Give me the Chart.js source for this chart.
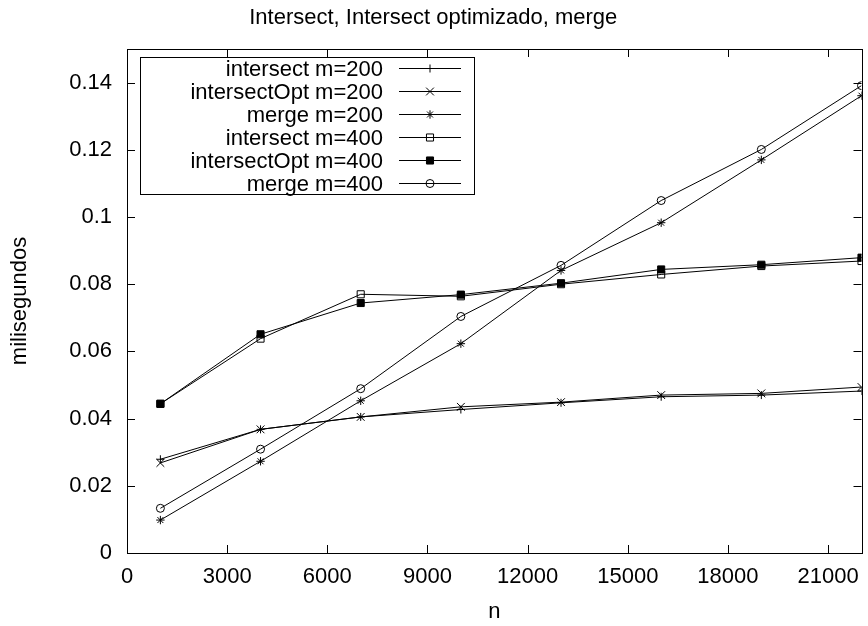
<!DOCTYPE html>
<html>
<head>
<meta charset="utf-8">
<title>Intersect, Intersect optimizado, merge</title>
<script src="https://cdn.jsdelivr.net/npm/chart.js@4.4.0/dist/chart.umd.min.js"></script>
<style>
  html, body { margin: 0; padding: 0; background: #fff; }
  #wrap { width: 868px; height: 626px; }
</style>
</head>
<body>
<div id="wrap"><canvas id="chart" width="868" height="626"></canvas></div>
<script>
// valores de n (eje x)
const nValues = [1000, 4000, 7000, 10000, 13000, 16000, 19000, 22000]

// tiempos en milisegundos
const intersect200 = [0.0279, 0.0368, 0.0405, 0.0427, 0.0447, 0.0465, 0.0470, 0.0482]
const intersectOpt200 = [0.0268, 0.0368, 0.0405, 0.0435, 0.0449, 0.0470, 0.0475, 0.0494]
const merge200 = [0.0098, 0.0273, 0.0453, 0.0623, 0.0841, 0.0983, 0.1170, 0.1361]
const intersect400 = [0.0444, 0.0638, 0.0770, 0.0764, 0.0800, 0.0829, 0.0854, 0.0869]
const intersectOpt400 = [0.0444, 0.0651, 0.0744, 0.0769, 0.0803, 0.0844, 0.0858, 0.0879]
const merge400 = [0.0133, 0.0309, 0.0489, 0.0704, 0.0856, 0.1049, 0.1201, 0.1391]

// ticks de los ejes
const xTickValues = [0, 3000, 6000, 9000, 12000, 15000, 18000, 21000]
const yTickValues = [0, 0.02, 0.04, 0.06, 0.08, 0.1, 0.12, 0.14]

const seriesLabels = [
  'intersect m=200',
  'intersectOpt m=200',
  'merge m=200',
  'intersect m=400',
  'intersectOpt m=400',
  'merge m=400',
]

const chartTitle = 'Intersect, Intersect optimizado, merge'
const xTitle = 'n'
const yTitle = 'milisegundos'

const FONT = '"Liberation Sans", Arial, Helvetica, sans-serif'

function toPoints(values) {
  return values.map((v, i) => ({ x: nValues[i], y: v }))
}

// estilo tipo gnuplot para cada serie
function makeDataset(label, values, style, radius, fill) {
  return {
    label: label,
    data: toPoints(values),
    borderColor: '#000',
    borderWidth: 1,
    pointStyle: style,
    pointRadius: radius,
    pointHoverRadius: radius,
    pointBorderColor: '#000',
    pointBorderWidth: 1,
    pointBackgroundColor: fill,
    backgroundColor: fill,
    tension: 0,
    clip: 0,
  }
}

const datasets = [
  makeDataset(seriesLabels[0], intersect200, 'cross', 4, 'rgba(0,0,0,0)'),
  makeDataset(seriesLabels[1], intersectOpt200, 'crossRot', 5.5, 'rgba(0,0,0,0)'),
  makeDataset(seriesLabels[2], merge200, 'star', 4.2, 'rgba(0,0,0,0)'),
  makeDataset(seriesLabels[3], intersect400, 'rect', 5, 'rgba(0,0,0,0)'),
  makeDataset(seriesLabels[4], intersectOpt400, 'rect', 5, '#000'),
  makeDataset(seriesLabels[5], merge400, 'circle', 4, 'rgba(0,0,0,0)'),
]

// marco completo con ticks hacia dentro (en los 4 lados)
const frameTicks = {
  id: 'frameTicks',
  afterDatasetsDraw(chart) {
    const { ctx, chartArea: a } = chart
    const xs = chart.scales.x
    const ys = chart.scales.y
    const len = 8
    ctx.save()
    ctx.strokeStyle = '#000'
    ctx.lineWidth = 1
    ctx.beginPath()
    xs.ticks.forEach((t) => {
      const px = Math.round(xs.getPixelForValue(t.value)) + 0.5
      ctx.moveTo(px, a.bottom)
      ctx.lineTo(px, a.bottom - len)
      ctx.moveTo(px, a.top)
      ctx.lineTo(px, a.top + len)
    })
    ys.ticks.forEach((t) => {
      const py = Math.round(ys.getPixelForValue(t.value)) + 0.5
      ctx.moveTo(a.left, py)
      ctx.lineTo(a.left + len, py)
      ctx.moveTo(a.right, py)
      ctx.lineTo(a.right - len, py)
    })
    ctx.stroke()
    ctx.strokeRect(Math.round(a.left) + 0.5, Math.round(a.top) + 0.5,
      Math.round(a.right - a.left), Math.round(a.bottom - a.top))
    ctx.restore()
  },
}

// leyenda dentro del area, como la de gnuplot
const keyBox = {
  id: 'keyBox',
  afterDraw(chart) {
    const { ctx, chartArea: a } = chart
    const boxL = a.left + 13
    const boxT = a.top + 8
    const boxW = 334
    const boxH = 137
    const rowH = 23
    ctx.save()
    ctx.fillStyle = '#fff'
    ctx.fillRect(boxL, boxT, boxW, boxH)
    ctx.strokeStyle = '#000'
    ctx.lineWidth = 1
    ctx.strokeRect(Math.round(boxL) + 0.5, Math.round(boxT) + 0.5, boxW, boxH)
    ctx.font = '22px ' + FONT
    ctx.textAlign = 'right'
    ctx.textBaseline = 'middle'
    chart.data.datasets.forEach((ds, i) => {
      const y = Math.round(boxT + 11 + i * rowH) + 0.5
      ctx.fillStyle = '#000'
      ctx.fillText(ds.label, boxL + 243, y + 1)
      ctx.beginPath()
      ctx.moveTo(boxL + 259, y)
      ctx.lineTo(boxL + 321, y)
      ctx.stroke()
      ctx.fillStyle = ds.pointBackgroundColor
      Chart.helpers.drawPoint(ctx, {
        pointStyle: ds.pointStyle,
        radius: ds.pointRadius,
        rotation: 0,
        borderWidth: 1,
      }, boxL + 290, y)
    })
    ctx.restore()
  },
}

function main() {
  const ctx = document.getElementById('chart').getContext('2d')
  new Chart(ctx, {
    type: 'line',
    data: { datasets: datasets },
    options: {
      responsive: false,
      animation: false,
      events: [],
      layout: { padding: { left: 0, right: 1.5, top: 0, bottom: 0 } },
      plugins: {
        legend: { display: false },
        tooltip: { enabled: false },
        title: {
          display: true,
          text: chartTitle,
          color: '#000',
          font: { family: FONT, size: 22, weight: 'normal' },
          padding: { top: 5, bottom: 17.6 },
        },
      },
      scales: {
        x: {
          type: 'linear',
          min: 0,
          max: 22000,
          grid: { display: false, drawTicks: false },
          border: { display: false },
          afterBuildTicks: (scale) => {
            scale.ticks = xTickValues.map((v) => ({ value: v }))
          },
          // alto fijo del eje para que el area quede como en gnuplot
          afterFit: (scale) => {
            scale.height = 73
            scale.paddingLeft = 0
            scale.paddingRight = 0
          },
          ticks: {
            maxRotation: 0,
            autoSkip: false,
            padding: 11,
            color: '#000',
            font: { family: FONT, size: 22 },
            callback: (v) => String(v),
          },
          title: {
            display: true,
            text: xTitle,
            color: '#000',
            font: { family: FONT, size: 22 },
            padding: { top: 8.4, bottom: 0.8 },
          },
        },
        y: {
          type: 'linear',
          min: 0,
          max: 0.15,
          grid: { display: false, drawTicks: false },
          border: { display: false },
          afterBuildTicks: (scale) => {
            scale.ticks = yTickValues.map((v) => ({ value: v }))
          },
          afterFit: (scale) => {
            scale.width = 127
            scale.paddingTop = 0
            scale.paddingBottom = 0
          },
          ticks: {
            autoSkip: false,
            padding: 15,
            color: '#000',
            font: { family: FONT, size: 22 },
            callback: (v) => String(+v.toFixed(4)),
          },
          title: {
            display: true,
            text: yTitle,
            color: '#000',
            font: { family: FONT, size: 22 },
            padding: { top: 7, bottom: 20 },
          },
        },
      },
    },
    plugins: [frameTicks, keyBox],
  })
}
main()
</script>
</body>
</html>
